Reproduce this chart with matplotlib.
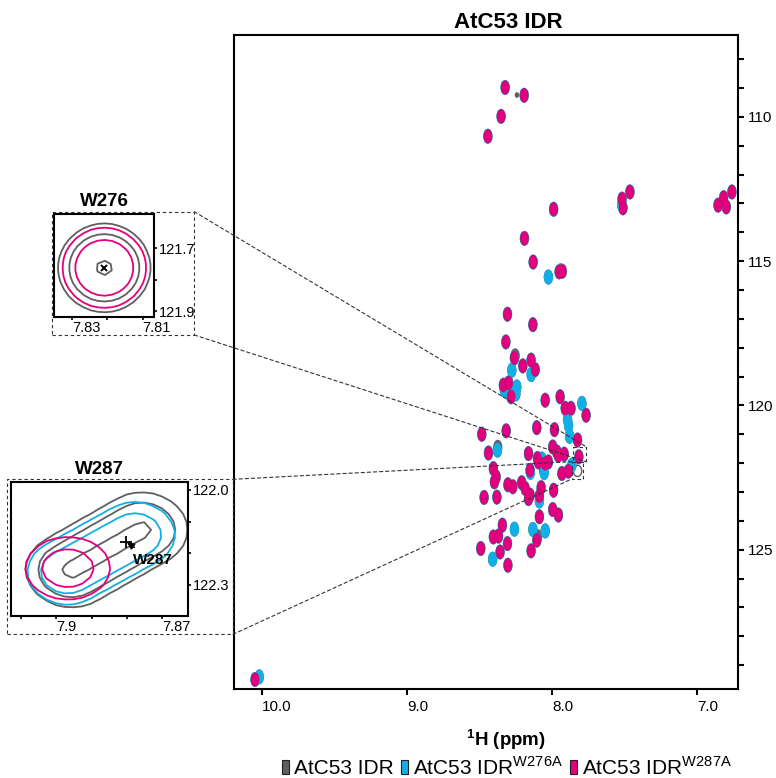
import numpy as np
import matplotlib
matplotlib.use('Agg')
import matplotlib.pyplot as plt
from matplotlib.patches import Ellipse, Rectangle, Patch, ConnectionPatch

plt.rcParams['font.family'] = ['Liberation Sans', 'DejaVu Sans']
plt.rcParams['mathtext.fontset'] = 'custom'
plt.rcParams['mathtext.rm'] = 'Liberation Sans'
plt.rcParams['mathtext.bf'] = 'Liberation Sans:bold'

GRAY = '#5f5f5f'
BLUE = '#12aee6'
PINK = '#e4007c'

# ---------------- main spectrum peak lists (1H ppm, 15N ppm) ----------------
# AtC53 IDR W287A (magenta)
pink_h = [8.324, 8.193, 8.352, 8.443, 7.990, 7.518, 7.512, 7.464, 6.857, 6.818,
          6.800, 6.761, 8.191, 8.131, 7.952, 7.930, 8.308, 8.133, 8.319, 8.260,
          8.202, 8.145, 8.117, 8.336, 8.300, 8.283, 8.048, 7.945, 7.910, 7.870,
          7.766, 8.485, 8.317, 8.106, 7.984, 7.825, 8.439, 8.163, 8.101, 8.026,
          7.996, 7.968, 7.917, 7.816, 7.933, 7.888, 8.405, 8.386, 8.152, 8.048,
          8.398, 8.305, 8.271, 8.210, 8.186, 8.152, 8.163, 8.076, 8.088, 7.990,
          8.469, 8.381, 8.088, 7.996, 7.957, 8.343, 8.405, 8.370, 8.106, 8.492,
          8.308, 8.359, 8.145, 8.305, 10.048, 7.957, 8.094]
pink_n = [108.98, 109.25, 109.98, 110.67, 113.20, 112.85, 113.15, 112.60, 113.06, 112.80,
          113.12, 112.60, 114.21, 115.03, 115.37, 115.35, 116.84, 117.20, 117.80, 118.35,
          118.63, 118.43, 118.76, 119.30, 119.22, 119.70, 119.82, 119.70, 120.10, 120.10,
          120.34, 121.00, 120.88, 120.77, 120.84, 121.20, 121.65, 121.67, 121.84, 121.96,
          121.44, 121.61, 121.69, 121.78, 122.36, 122.28, 122.19, 122.48, 122.25, 122.01,
          122.65, 122.75, 122.82, 122.68, 122.88, 123.11, 123.23, 122.85, 123.14, 122.94,
          123.19, 123.18, 123.86, 123.61, 123.80, 124.15, 124.56, 124.53, 124.67, 124.96,
          124.79, 125.08, 125.04, 125.54, 129.50, 121.73, 121.96]

# AtC53 IDR W276A (cyan) – peaks not hidden under the magenta ones
blue_h = [8.026, 8.278, 8.145, 8.244, 8.329, 8.250, 7.795, 7.894, 7.887, 7.880,
          8.377, 8.055, 7.864, 8.088, 8.260, 8.133, 8.048, 8.410, 8.071, 10.019,
          8.150, 7.520]
blue_n = [115.55, 118.78, 118.93, 119.36, 119.47, 119.60, 119.93, 120.49, 120.69, 121.07,
          121.55, 122.33, 122.07, 123.31, 124.29, 124.30, 124.35, 125.33, 121.86, 129.41,
          122.32, 113.05]

# AtC53 IDR (grey) – peaks visible besides the overlaid ones
gray_h = [8.255, 8.375, 7.942, 8.100, 8.060]
gray_n = [118.28, 121.45, 115.33, 124.55, 122.20]
gray_small_h = [8.243]          # weak peak
gray_small_n = [109.24]
gray_ring_h = [7.825]           # W287 peak of the wild type
gray_ring_n = [122.27]

# ---------------- inset W276 (peak centre, widths, contour levels) ----------------
w276_center = (7.8209, 121.762)
w276_width = (0.0071, 0.0767)
w276_gray_levels = [0.184, 0.375, 0.95]
w276_pink_levels = [0.25, 0.51]

# ---------------- inset W287 ----------------
w287_gray_seg = [(7.89565, 122.2524), (7.87577, 122.1262)]
w287_blue_seg = [(7.89679, 122.2587), (7.87776, 122.1420)]
w287_width = (0.00625, 0.0568)
w287_gray_levels = [0.122, 0.325, 0.904]
w287_blue_levels = [0.198, 0.487]
w287_pink_center = (7.8967, 122.247)
w287_pink_width = (0.00653, 0.0536)
w287_pink_levels = [0.19, 0.54]
w287_label_xy = (7.8803, 122.163)

# ---------------- figure ----------------
W, H = 776, 778
fig = plt.figure(figsize=(W / 100, H / 100), dpi=100)


def fx(px):
    return px / W


def fy(py):
    return 1 - py / H


ax = fig.add_axes([fx(234), fy(689), fx(738) - fx(234), fy(35) - fy(689)])
ax.set_xlim(10.193, 6.719)
ax.set_ylim(129.83, 107.16)

PW, PH = 0.054, 0.46
BW, BH = 0.064, 0.52
for h, n in zip(pink_h + blue_h, pink_n + blue_n):
    ax.add_patch(Ellipse((h, n), BW, BH, facecolor=GRAY, edgecolor='none', zorder=1))
for h, n in zip(gray_h, gray_n):
    ax.add_patch(Ellipse((h, n), BW, BH, facecolor=GRAY, edgecolor='none', zorder=1.5))
for h, n in zip(gray_small_h, gray_small_n):
    ax.add_patch(Ellipse((h, n), 0.03, 0.2, facecolor=GRAY, edgecolor='none', zorder=1.5))
for h, n in zip(gray_ring_h, gray_ring_n):
    ax.add_patch(Ellipse((h, n), BW * 0.9, BH * 0.75, facecolor='none', edgecolor=GRAY,
                         lw=1.0, zorder=1.5))
for h, n in zip(pink_h + blue_h, pink_n + blue_n):
    ax.add_patch(Ellipse((h, n), BW, BH, facecolor=BLUE, edgecolor='none', zorder=2))
for h, n in zip(pink_h, pink_n):
    ax.add_patch(Ellipse((h, n), PW, PH, facecolor=PINK, edgecolor='#c8006c', lw=0.5, zorder=3))

for s in ax.spines.values():
    s.set_linewidth(1.5)
ax.yaxis.tick_right()
ax.set_xticks([10.0, 9.0, 8.0, 7.0], ['10.0', '9.0', '8.0', '7.0'], ha='left')
ax.set_yticks([110, 115, 120, 125], ['110', '115', '120', '125'])
ax.set_yticks(np.arange(108, 130, 1), minor=True)
ax.tick_params(axis='both', which='both', direction='out', length=4.3, width=1.5,
               labelsize=11, pad=2.5)
ax.tick_params(axis='x', pad=3.5)
ax.set_title('AtC53 IDR', fontsize=16, fontweight='bold', x=(508 - 234) / 504, pad=5)
ax.set_xlabel(r'$^{\mathbf{1}}$H (ppm)', fontsize=13.5, fontweight='bold', va='center')
ax.xaxis.set_label_coords((506 - 234) / 504, (689 - 740) / 654)


def add_inset(px0, py0, px1, py1):
    return fig.add_axes([fx(px0), fy(py1), fx(px1) - fx(px0), fy(py0) - fy(py1)])


def style_inset(a):
    for s in a.spines.values():
        s.set_linewidth(1.5)
    a.yaxis.tick_right()
    a.tick_params(axis='both', direction='out', length=2.2, width=1.2, labelsize=10.5, pad=0.8)


# ---- W276 inset ----
a1 = add_inset(54.3, 214, 154.3, 317.3)
a1.set_xlim(7.8351, 7.8067)
a1.set_ylim(121.92, 121.59)
x1 = np.arange(7.8067, 7.8352, 0.002)
y1 = np.arange(121.59, 121.921, 0.02)
X1, Y1 = np.meshgrid(x1, y1)
Z1 = np.exp(-0.5 * (((X1 - w276_center[0]) / w276_width[0]) ** 2 +
                    ((Y1 - w276_center[1]) / w276_width[1]) ** 2))
a1.contour(X1, Y1, Z1, levels=w276_gray_levels, colors=GRAY, linewidths=1.3)
a1.contour(X1, Y1, Z1, levels=w276_pink_levels, colors=PINK, linewidths=1.3)
a1.plot(*w276_center, marker='x', color='k', ms=5, mew=1.4)
style_inset(a1)
a1.set_xticks([7.83, 7.82, 7.81], ['7.83', '', '7.81'], ha='left')
a1.set_yticks([121.7, 121.8, 121.9], ['121.7', '', '121.9'])
a1.set_title('W276', fontsize=13.5, fontweight='bold', pad=6)


# ---- W287 inset ----
def capsule(X, Y, seg, width):
    (xa, ya), (xb, yb) = seg
    sx, sy = width
    u, v = X / sx, Y / sy
    ua, va_, ub, vb = xa / sx, ya / sy, xb / sx, yb / sy
    du, dv = ub - ua, vb - va_
    t = np.clip(((u - ua) * du + (v - va_) * dv) / (du * du + dv * dv), 0, 1)
    d2 = (u - ua - t * du) ** 2 + (v - va_ - t * dv) ** 2
    return np.exp(-0.5 * d2)


a2 = add_inset(11, 482.3, 188.3, 616)
a2.set_xlim(7.9128, 7.8626)
a2.set_ylim(122.398, 121.976)
x2 = np.arange(7.8626, 7.9129, 0.0025)
y2 = np.arange(121.976, 122.399, 0.025)
X2, Y2 = np.meshgrid(x2, y2)
Zg = capsule(X2, Y2, w287_gray_seg, w287_width)
Zb = capsule(X2, Y2, w287_blue_seg, w287_width)
Zp = np.exp(-0.5 * (((X2 - w287_pink_center[0]) / w287_pink_width[0]) ** 2 +
                    ((Y2 - w287_pink_center[1]) / w287_pink_width[1]) ** 2))
a2.contour(X2, Y2, Zg, levels=w287_gray_levels, colors=GRAY, linewidths=1.3)
a2.contour(X2, Y2, Zb, levels=w287_blue_levels, colors=BLUE, linewidths=1.3)
a2.contour(X2, Y2, Zp, levels=w287_pink_levels, colors=PINK, linewidths=1.3)
a2.plot(*w287_label_xy, marker='+', color='k', ms=8, mew=1.3)
a2.annotate('W287', xy=w287_label_xy, xytext=(7.8726, 122.222), fontsize=11,
            fontweight='bold', ha='center', va='center',
            arrowprops=dict(arrowstyle='-|>', color='k', lw=1.2, shrinkA=4, shrinkB=1,
                            mutation_scale=10))
style_inset(a2)
a2.set_xticks([7.91, 7.90, 7.89, 7.88, 7.87], ['', '7.9', '', '', '7.87'], ha='left')
a2.set_yticks([122.0, 122.1, 122.2, 122.3], ['122.0', '', '', '122.3'])
a2.set_title('W287', fontsize=13.5, fontweight='bold', pad=6)

# ---- dashed frames and connectors ----
dash = dict(fill=False, ls=(0, (3, 2.5)), lw=0.8, edgecolor='#333333')
fig.add_artist(Rectangle((fx(51.7), fy(335)), fx(194.3) - fx(51.7), fy(211.7) - fy(335),
                         transform=fig.transFigure, **dash))
fig.add_artist(Rectangle((fx(6.7), fy(634.3)), fx(233) - fx(6.7), fy(479.3) - fy(634.3),
                         transform=fig.transFigure, **dash))

box276 = (7.855, 7.766, 121.43, 121.95)
box287 = (7.865, 7.79, 121.95, 122.55)
for (x0, x1_, y0, y1_) in (box276, box287):
    ax.add_patch(Rectangle((x0, y0), x1_ - x0, y1_ - y0, zorder=5, **dash))

conn = [((194.3, 211.7), (box276[1], box276[2])), ((194.3, 335), (box276[1], box276[3])),
        ((233, 479.3), (box287[0], box287[2])), ((233, 634.3), (box287[0], box287[3]))]
for (pfx, pfy), (dx, dy) in conn:
    cp = ConnectionPatch(xyA=(fx(pfx), fy(pfy)), coordsA=fig.transFigure,
                         xyB=(dx, dy), coordsB=ax.transData,
                         ls=(0, (3, 2.5)), lw=0.8, color='#333333', zorder=6)
    fig.add_artist(cp)

# ---- legend ----
handles = [Patch(facecolor=GRAY, edgecolor='#222222', lw=0.8),
           Patch(facecolor=BLUE, edgecolor='#222222', lw=0.8),
           Patch(facecolor=PINK, edgecolor='#222222', lw=0.8)]
labels = ['AtC53 IDR', r'AtC53 IDR$^{\mathrm{W276A}}$', r'AtC53 IDR$^{\mathrm{W287A}}$']
fig.legend(handles, labels, loc='center', bbox_to_anchor=(fx(507), fy(767)), ncol=3,
           frameon=False, fontsize=15, handlelength=0.32, handleheight=0.7,
           handletextpad=0.25, columnspacing=0.35, borderpad=0, borderaxespad=0)

fig.savefig('out.png', dpi=100)
